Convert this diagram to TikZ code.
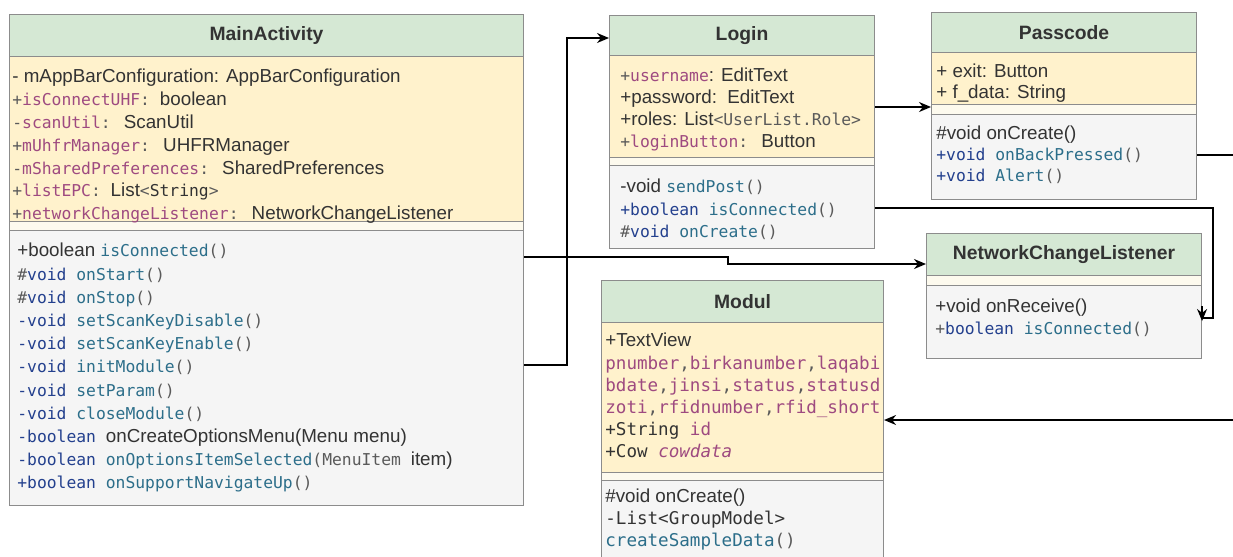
\documentclass[tikz,border=0pt]{standalone}
\usepackage{xcolor}
\usepackage{fontspec}
\setmainfont{Liberation Sans}
\newfontfamily\codefont{DejaVu Sans Mono}
\usepackage{tikz}
\usetikzlibrary{arrows.meta}

\definecolor{headgreen}{HTML}{D5E8D4}
\definecolor{attryellow}{HTML}{FFF2CC}
\definecolor{opsgrey}{HTML}{F5F5F5}
\definecolor{stripfill}{HTML}{FDFAEE}
\definecolor{boxline}{HTML}{8C8C8C}
\definecolor{txt}{HTML}{333333}
\definecolor{fieldpink}{HTML}{9E4A80}
\definecolor{kwblue}{HTML}{23408E}
\definecolor{methteal}{HTML}{2C6E8A}
\definecolor{punctgrey}{HTML}{5A5A5A}

\newcommand{\monosize}{9.3}
\newcommand{\cmono}[2]{{\codefont\fontsize{\monosize}{11}\selectfont\color{#1}#2}}
\newcommand{\cfld}[1]{\cmono{fieldpink}{#1}}
\newcommand{\ckw}[1]{\cmono{kwblue}{#1}}
\newcommand{\cmth}[1]{\cmono{methteal}{#1}}
\newcommand{\cpn}[1]{\cmono{punctgrey}{#1}}
\newcommand{\cdark}[1]{\cmono{txt}{#1}}

\tikzset{
  sz/.style 2 args={minimum width=#1*0.02cm, minimum height=#2*0.02cm},
  head/.style={draw=boxline, line width=0.6pt, fill=headgreen, anchor=north west, inner sep=0pt,
    text=txt, font=\bfseries\fontsize{11}{13}\selectfont},
  attrs/.style={draw=boxline, line width=0.6pt, fill=attryellow, anchor=north west, inner sep=0pt},
  gap/.style={draw=boxline, line width=0.6pt, fill=stripfill, anchor=north west, inner sep=0pt},
  ops/.style={draw=boxline, line width=0.6pt, fill=opsgrey, anchor=north west, inner sep=0pt},
  row/.style={anchor=west, inner sep=0pt, text height=8pt, text depth=2.5pt, text=txt,
    font=\fontsize{10.7}{13}\selectfont},
  wire/.style={draw=black, line width=0.85pt},
  conn/.style={wire, -{Stealth[length=2.4mm, width=2mm]}}
}

\begin{document}
\begin{tikzpicture}[x=0.02cm, y=-0.02cm]
\useasboundingbox (0,0) rectangle (1233,556);
\clip (0,0) rectangle (1233,556);

% MainActivity
\node[head, sz={514}{42}] (maHead) at (9,14) {MainActivity};
\node[attrs, sz={514}{165}] (maAttr) at (9,56) {};
\node[gap, sz={514}{9}] (maGap) at (9,221) {};
\node[ops, sz={514}{275}] (maOps) at (9,230) {};
\foreach \t [count=\i from 0] in {
  {- mAppBarConfiguration: AppBarConfiguration},
  {\cpn{+}\cfld{isConnectUHF}\cpn{: }boolean},
  {\cpn{-}\cfld{scanUtil}\cpn{: }ScanUtil},
  {\cpn{+}\cfld{mUhfrManager}\cpn{: }UHFRManager},
  {\cpn{-}\cfld{mSharedPreferences}\cpn{: }SharedPreferences},
  {\cpn{+}\cfld{listEPC}\cpn{: }List\cpn{<}\cdark{String}\cpn{>}},
  {\cpn{+}\cfld{networkChangeListener}\cpn{: }NetworkChangeListener}}
  \node[row] (maA\i) at (12,{78+22.8*\i}) {\t};
\foreach \t [count=\i from 0] in {
  {+boolean \cmth{isConnected}\cpn{()}},
  {\cpn{\#}\ckw{void }\cmth{onStart}\cpn{()}},
  {\cpn{\#}\ckw{void }\cmth{onStop}\cpn{()}},
  {\ckw{-void }\cmth{setScanKeyDisable}\cpn{()}},
  {\ckw{-void }\cmth{setScanKeyEnable}\cpn{()}},
  {\ckw{-void }\cmth{initModule}\cpn{()}},
  {\ckw{-void }\cmth{setParam}\cpn{()}},
  {\ckw{-void }\cmth{closeModule}\cpn{()}},
  {\ckw{-boolean }onCreateOptionsMenu(Menu menu)},
  {\ckw{-boolean }\cmth{onOptionsItemSelected}\cpn{(MenuItem }item)},
  {\ckw{+boolean }\cmth{onSupportNavigateUp}\cpn{()}}}
  \node[row] (maM\i) at (17,{252+23.2*\i}) {\t};

% Login
\node[head, sz={265}{40}] (loginHead) at (609,15) {Login};
\node[attrs, sz={265}{102}] (loginAttr) at (609,55) {};
\node[gap, sz={265}{8}] (loginGap) at (609,157) {};
\node[ops, sz={265}{83}] (loginOps) at (609,165) {};
\foreach \t [count=\i from 0] in {
  {\cpn{+}\cfld{username}: EditText},
  {+password:\ \ EditText},
  {+roles: List\cpn{<UserList.Role>}},
  {\cpn{+}\cfld{loginButton}\cpn{: }Button}}
  \node[row] (loginA\i) at (620,{77+22*\i}) {\t};
\foreach \t [count=\i from 0] in {
  {-void \cmth{sendPost}\cpn{()}},
  {\ckw{+boolean }\cmth{isConnected}\cpn{()}},
  {\cpn{\#}\ckw{void }\cmth{onCreate}\cpn{()}}}
  \node[row] (loginM\i) at (620,{188+22.5*\i}) {\t};

% Passcode
\node[head, sz={265}{40}] (passHead) at (931,12) {Passcode};
\node[attrs, sz={265}{52}] (passAttr) at (931,52) {};
\node[gap, sz={265}{10}] (passGap) at (931,104) {};
\node[ops, sz={265}{85}] (passOps) at (931,114) {};
\node[row] (passA0) at (936,73) {+ exit: Button};
\node[row] (passA1) at (936,94) {+ f\_data: String};
\node[row] (passM0) at (936,135) {\#void onCreate()};
\node[row] (passM1) at (936,156) {\ckw{+void }\cmth{onBackPressed}\cpn{()}};
\node[row] (passM2) at (936,177) {\ckw{+void }\cmth{Alert}\cpn{()}};

% NetworkChangeListener
\node[head, sz={275}{42}] (nclHead) at (926,233) {NetworkChangeListener};
\node[gap, sz={275}{10}] (nclGap) at (926,275) {};
\node[ops, sz={275}{73}] (nclOps) at (926,285) {};
\node[row] (nclM0) at (935,308) {+void onReceive()};
\node[row] (nclM1) at (935,330) {\cpn{+}\ckw{boolean }\cmth{isConnected}\cpn{()}};

% Modul
\node[head, sz={282}{42}] (modulHead) at (601,280) {Modul};
\node[attrs, sz={282}{150}] (modulAttr) at (601,322) {};
\node[gap, sz={282}{8}] (modulGap) at (601,472) {};
\node[ops, sz={282}{100}] (modulOps) at (601,480) {};
\begin{scope}
\renewcommand{\monosize}{10}
\clip (601,322) rectangle (882,472);
\foreach \t [count=\i from 0] in {
  {+TextView},
  {\cfld{pnumber}\cpn{,}\cfld{birkanumber}\cpn{,}\cfld{laqabi}},
  {\cfld{bdate}\cpn{,}\cfld{jinsi}\cpn{,}\cfld{status}\cpn{,}\cfld{statusd}},
  {\cfld{zoti}\cpn{,}\cfld{rfidnumber}\cpn{,}\cfld{rfid\_short}},
  {\cdark{+String }\cfld{id}},
  {\cdark{+Cow }\cfld{\itshape cowdata}}}
  \node[row] (modulA\i) at (605,{342+22.2*\i}) {\t};
\end{scope}
\begin{scope}
\renewcommand{\monosize}{10}
\node[row] (modulM0) at (605,498) {\#void onCreate()};
\node[row] (modulM1) at (605,520) {\cdark{-List<GroupModel>}};
\node[row] (modulM2) at (605,542) {\cmth{createSampleData}\cpn{()}};
\end{scope}

% connectors
\coordinate (offR1) at (1233,155);
\coordinate (offR2) at (1233,420);
\draw[conn] (maOps.east |- 0,365) -- ++(43,0) |- (loginHead.west |- 0,38);
\draw[conn] (maOps.east |- 0,257) -- ++(204,0) -- ++(0,7) -- (nclHead.west |- 0,264);
\draw[conn] (loginAttr.east |- 0,107) -- (passGap.west |- 0,107);
\draw[wire] (loginOps.east |- 0,208) -- ++(338,0) -- ++(0,110) -- (nclOps.east |- 0,318);
\draw[conn] (nclOps.east |- 0,306) -- (nclOps.east |- 0,321);
\draw[wire] (passOps.east |- offR1) -- (offR1);
\draw[conn] (offR2) -- (modulAttr.east |- offR2);

\end{tikzpicture}
\end{document}
